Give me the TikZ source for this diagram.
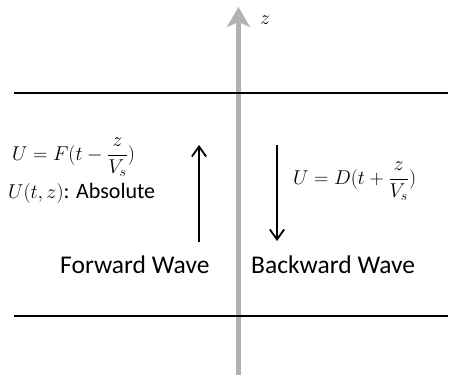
\documentclass[tikz,border=0pt]{standalone}
\usepackage{amsmath}
\usepackage{fix-cm}
\usepackage{fontspec}
\setsansfont{Carlito}
\usetikzlibrary{arrows.meta}

\begin{document}
\begin{tikzpicture}[x=1pt,y=-1pt,
  axisline/.style={black!30,line width=5pt,-{Stealth[length=20pt,width=23pt,inset=5pt]}},
  boundary/.style={black,line width=2.5pt},
  wave/.style={black,line width=1.8pt,-{Straight Barb[length=3.5mm,width=5mm,line width=1.8pt]}},
  eqn/.style={inner sep=0pt,font=\fontsize{20}{24}\selectfont},
  caption/.style={inner sep=0pt,font=\sffamily\fontsize{25.5}{30}\selectfont}]
  \useasboundingbox (0,0) rectangle (450,375);
  \coordinate (zbot) at (238.5,375);
  \coordinate (ztop) at (238.5,7);
  \draw[axisline] (zbot) -- (ztop);
  \node[eqn] (zlab) at (265,20) {$z$};
  \coordinate (l1) at (14,93);
  \coordinate (r1) at (448,93);
  \coordinate (l2) at (14,316);
  \coordinate (r2) at (448,316);
  \draw[boundary] (l1) -- (r1);
  \draw[boundary] (l2) -- (r2);
  \coordinate (fwda) at (199,242);
  \coordinate (fwdb) at (199,145);
  \coordinate (bwda) at (277,145);
  \coordinate (bwdb) at (277,241);
  \draw[wave] (fwda) -- (fwdb);
  \draw[wave] (bwda) -- (bwdb);
  \node[eqn,anchor=base west] (feq) at (12,160) {$U=F(t-\dfrac{z}{V_s})$};
  \node[eqn,anchor=base west] (abs) at (8,198) {$U(t,z)$\textsf{\fontsize{22}{26}\selectfont: Absolute}};
  \node[eqn,anchor=base west] (beq) at (293,184) {$U=D(t+\dfrac{z}{V_s})$};
  \node[caption,anchor=base west] (fwd) at (60,273) {Forward Wave};
  \node[caption,anchor=base west] (bwd) at (251,273) {Backward Wave};
\end{tikzpicture}
\end{document}
